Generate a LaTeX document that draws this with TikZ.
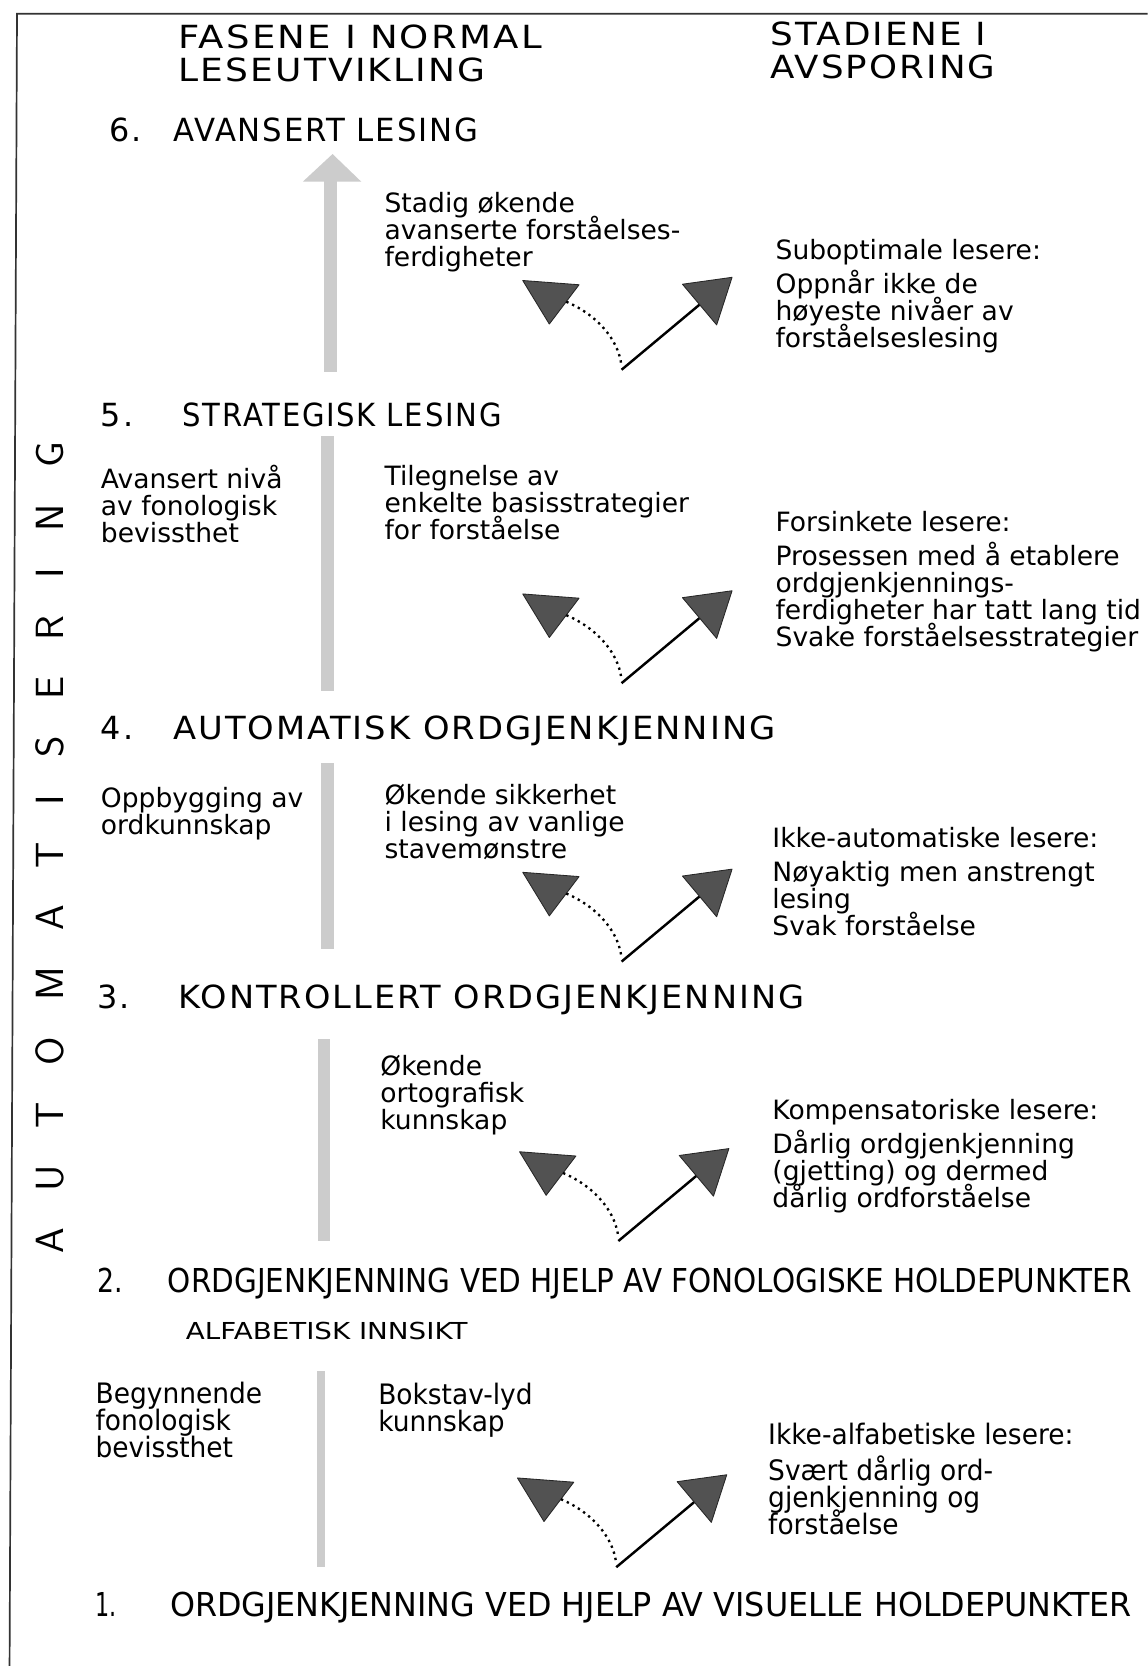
\documentclass[tikz,border=0pt]{standalone}
\usepackage{fontspec}
\usepackage{graphicx}
\setmainfont{DejaVu Sans}
\newfontfamily\condfont[FakeStretch=0.94]{DejaVu Sans}
\newfontfamily\headfont[LetterSpace=6]{DejaVu Sans}
\newsavebox\fitbox
\newcommand\fitw[2]{\sbox\fitbox{#2}\pgfmathsetmacro\fitr{#1/\the\wd\fitbox}\scalebox{\fitr}[1]{\usebox\fitbox}}
\newcommand\tk{\kern 33pt}
\newcommand\fixskip{\lineskiplimit=-200pt\lineskip=0pt}
\tikzset{
  head/.style={anchor=base west, align=left, font=\headfont\fontsize{30}{31.5}\selectfont\fixskip},
  condhead/.style={anchor=base west, font=\fontsize{31}{31}\selectfont},
  body/.style={anchor=base west, align=left, font=\fontsize{25}{25.4}\selectfont\fixskip},
  cond/.style={anchor=base west, align=left, font=\condfont\fontsize{26.5}{25.4}\selectfont\fixskip},
  graybar/.style={fill=black!20, draw=none},
  tri/.style={fill=black!68, draw=black!85, line width=0.8, line join=round},
  dotline/.style={line width=2.2, dash pattern=on 2.2pt off 3.8pt},
  solidline/.style={line width=2.3},
  frame/.style={line width=1.6, draw=black!80}
}
% deviation symbol: #1 name, (#2,#3) pivot point
\newcommand\devi[3]{%
  \begin{scope}[shift={(#2,#3)}]
    \coordinate (#1p) at (0,0);
    \coordinate (#1tip) at (104,-87);
    \coordinate (#1hb) at (73.4,-61.3);
    \coordinate (#1d) at (-52,-64);
    \coordinate (#1e) at (0,-3);
    \fill[tri] (-93,-84) -- (-40,-80) -- (-68,-43) -- cycle;
    \draw[dotline] (#1d) .. controls (-28,-54) and (-3,-32) .. (#1e);
    \draw[solidline] (#1p) -- (#1hb);
    \fill[tri] (#1tip) -- (57.3,-80.5) -- (89.5,-42.2) -- cycle;
  \end{scope}}
\lineskiplimit=-200pt
\lineskip=0pt
\begin{document}
\begin{tikzpicture}[x=1pt, y=-1pt, every node/.style={inner sep=0pt, outer sep=0pt}]
\useasboundingbox (0,0) rectangle (1080,1568);
\fill[white] (0,0) rectangle (1080,1568);
% frame
\draw[frame] (1080,13) -- (16,13) -- (9,1568);

% headers (anchor = baseline of last line)
\node[head] (hleft) at (168,77) {\fitw{342}{FASENE I NORMAL}\\\fitw{289}{LESEUTVIKLING}};
\node[head] (hright) at (725,74) {\fitw{203}{STADIENE I}\\\fitw{212}{AVSPORING}};

% vertical label
\node[rotate=90, font=\sffamily\fontsize{37}{37}\selectfont] (auto) at (47,798)
  {\fitw{764}{A\tk U\tk T\tk O\tk M\tk A\tk T\tk I\tk S\tk E\tk R\tk I\tk N\tk G}};

% ---------- stage 6
\node[head] (n6) at (103,133) {6.};
\node[head] (h6) at (163,133) {\fitw{287}{AVANSERT LESING}};
\fill[graybar] (305,350) -- (305,171) -- (285,171) -- (313,145) -- (340,171) -- (317,171) -- (317,350) -- cycle;
\node[body] (m6) at (362,251) {Stadig økende\\avanserte forståelses-\\ferdigheter};
\node[body] (r6) at (730,327) {Suboptimale lesere:\\[6.6pt]Oppnår ikke de\\høyeste nivåer av\\forståelseslesing};
\devi{s6}{585}{348}

% ---------- stage 5
\node[head] (n5) at (95,401) {5.};
\node[head] (h5) at (172,401) {\fitw{300}{STRATEGISK LESING}};
\fill[graybar] (302,410) rectangle (314,650);
\node[body] (l5) at (95,511) {Avansert nivå\\av fonologisk\\bevissthet};
\node[body] (m5) at (362,508) {Tilegnelse av\\enkelte basisstrategier\\for forståelse};
\node[body] (r5) at (730,608) {Forsinkete lesere:\\[6.6pt]Prosessen med å etablere\\ordgjenkjennings-\\ferdigheter har tatt lang tid\\Svake forståelsesstrategier};
\devi{s5}{585}{643}

% ---------- stage 4
\node[head] (n4) at (95,696) {4.};
\node[head] (h4) at (163,696) {\fitw{567}{AUTOMATISK ORDGJENKJENNING}};
\fill[graybar] (302,718) rectangle (314,893);
\node[body] (l4) at (95,785) {Oppbygging av\\ordkunnskap};
\node[body] (m4) at (362,808) {Økende sikkerhet\\i lesing av vanlige\\stavemønstre};
\node[body] (r4) at (727,880) {Ikke-automatiske lesere:\\[6.6pt]Nøyaktig men anstrengt\\lesing\\Svak forståelse};
\devi{s4}{585}{905}

% ---------- stage 3
\node[head] (n3) at (92,949) {3.};
\node[head] (h3) at (168,949) {\fitw{589}{KONTROLLERT ORDGJENKJENNING}};
\fill[graybar] (299,978) rectangle (311,1168);
\node[body] (m3) at (358,1063) {Økende\\ortografisk\\kunnskap};
\node[body] (r3) at (727,1136) {Kompensatoriske lesere:\\[6.6pt]Dårlig ordgjenkjenning\\(gjetting) og dermed\\dårlig ordforståelse};
\devi{s3}{582}{1168}

% ---------- stage 2
\node[condhead] (n2) at (92,1216) {\fitw{24}{2.}};
\node[condhead] (h2) at (158,1216) {\fitw{907}{ORDGJENKJENNING VED HJELP AV FONOLOGISKE HOLDEPUNKTER}};
\node[anchor=base west, font=\fontsize{22}{22}\selectfont] (alfa) at (175,1261) {\fitw{265}{ALFABETISK INNSIKT}};
\fill[graybar] (298,1290) rectangle (306,1475);
\node[cond] (l2) at (90,1372) {Begynnende\\fonologisk\\bevissthet};
\node[cond] (m2) at (356,1347) {Bokstav-lyd\\kunnskap};
\node[cond] (r2) at (723,1444) {Ikke-alfabetiske lesere:\\[8.6pt]Svært dårlig ord-\\gjenkjenning og\\forståelse};
\devi{s2}{580}{1475}

% ---------- stage 1
\node[condhead] (n1) at (90,1521) {\fitw{20}{1.}};
\node[condhead] (h1) at (160,1521) {\fitw{905}{ORDGJENKJENNING VED HJELP AV VISUELLE HOLDEPUNKTER}};
\end{tikzpicture}
\end{document}
